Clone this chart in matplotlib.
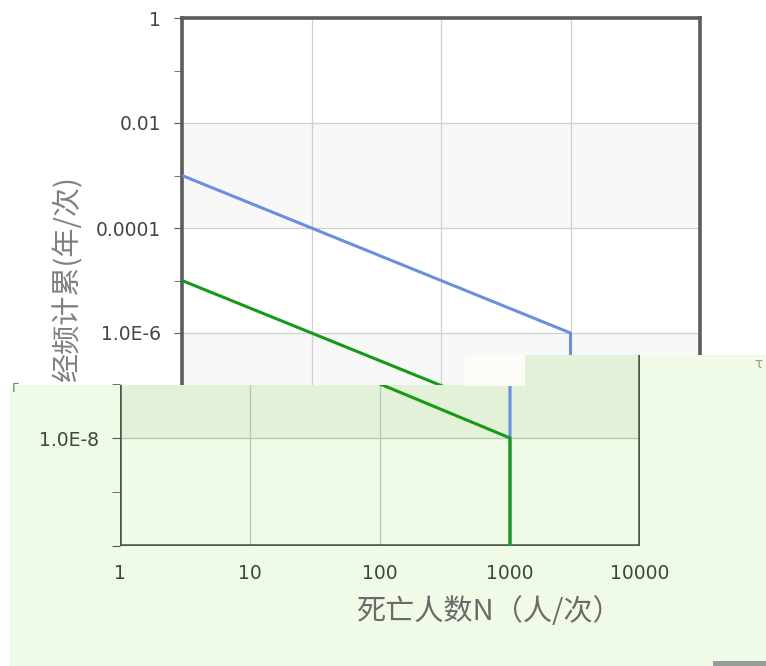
import matplotlib
matplotlib.use("Agg")
from matplotlib import pyplot as plt
from matplotlib.patches import Polygon, Rectangle
from matplotlib.ticker import FixedLocator, FixedFormatter, NullFormatter

# F-N curve data (deaths N vs cumulative frequency F)
deaths = [1, 1000, 1000]
upper_freq = [1e-3, 1e-6, 1e-10]
lower_freq = [1e-5, 1e-8, 1e-10]

x_ticks = [1, 10, 100, 1000, 10000]
x_labels = ["1", "10", "100", "1000", "10000"]
y_ticks = [1, 1e-2, 1e-4, 1e-6, 1e-8, 1e-10]
y_labels = ["1", "0.01", "0.0001", "1.0E-6", "1.0E-8", ""]
y_minor = [1e-1, 1e-3, 1e-5, 1e-7, 1e-9]
bands = [(1e-4, 1e-2), (1e-8, 1e-6)]

ylabel = "经频计累(年/次)"
xlabel = "死亡人数N（人/次）"

plt.rcParams['font.family'] = ['DejaVu Sans', 'Noto Sans CJK SC']

W, H = 766, 666
fig = plt.figure(figsize=(W / 100, H / 100), dpi=100)
fig.patch.set_facecolor("white")


def box(x0, y0, x1, y1):
    return [x0 / W, 1 - y1 / H, (x1 - x0) / W, (y1 - y0) / H]


def setup(ax, spine_col, band_col, grid_col, lab_col):
    ax.set_xscale("log")
    ax.set_yscale("log")
    ax.xaxis.set_major_locator(FixedLocator(x_ticks))
    ax.xaxis.set_major_formatter(FixedFormatter(x_labels))
    ax.xaxis.set_minor_locator(FixedLocator([]))
    ax.yaxis.set_major_locator(FixedLocator(y_ticks))
    ax.yaxis.set_major_formatter(FixedFormatter(y_labels))
    ax.yaxis.set_minor_locator(FixedLocator(y_minor))
    ax.yaxis.set_minor_formatter(NullFormatter())
    for lo, hi in bands:
        ax.axhspan(lo, hi, color=band_col, lw=0, zorder=0)
    ax.grid(True, which="major", color=grid_col, lw=0.9)
    ax.set_axisbelow(True)
    for s in ax.spines.values():
        s.set_color(spine_col)
        s.set_linewidth(2.6)
    ax.tick_params(axis="y", which="both", direction="out", length=6,
                   color=spine_col, labelsize=13.5, labelcolor=lab_col, pad=9)
    ax.tick_params(axis="x", which="both", length=0, labelsize=13.5,
                   labelcolor=lab_col, pad=13)
    ax.plot(deaths, upper_freq, color="#6b8fe0", lw=2.2, zorder=3)
    ax.plot(deaths, lower_freq, color="#169a16", lw=2.2, zorder=3)


# top (white) copy of the chart
ax1 = fig.add_axes(box(182, 18, 700, 543), zorder=0)
ax1.set_facecolor("white")
setup(ax1, "#5c5c5c", "#f8f8f8", "#d0d0d0", "#444444")
ax1.set_xlim(1, 10000)
ax1.set_ylim(1e-10, 1)
fig.text(68 / W, 1 - 176 / H, ylabel, rotation=90, ha="center", va="top",
         fontsize=21, color="#808080", family=["Noto Sans CJK SC"],
         fontweight="light", zorder=0.5)

# green overlay panel (shifted copy)
pts = [(10, 385), (466, 385), (466, 355), (766, 355), (766, 666), (10, 666)]
panel = Polygon([(x / W, 1 - y / H) for x, y in pts], closed=True,
                transform=fig.transFigure, facecolor="#f0fbe7", edgecolor="none",
                zorder=1)
fig.add_artist(panel)

ax2 = fig.add_axes(box(120, 355, 640, 546), zorder=2)
ax2.patch.set_visible(False)
setup(ax2, "#4d5a49", "#e4f1d9", "#b9c4b3", "#3f463c")
ax2.set_xlim(1, 10000)
ax2.set_ylim(1e-10, 10 ** (-10 + (546 - 355) / 54))
ax2.spines["top"].set_visible(False)

clip = Polygon([(x / W, 1 - y / H) for x, y in pts], closed=True,
               transform=fig.transFigure)
for art in ax2.lines + ax2.patches:
    art.set_clip_path(clip)
for gl in ax2.get_xgridlines() + ax2.get_ygridlines():
    gl.set_clip_path(clip)
for s in ax2.spines.values():
    s.set_clip_path(clip)

fig.text(490 / W, 1 - 612 / H, xlabel, ha="center", va="center",
         fontsize=21, color="#6a6a6a", family=["Noto Sans CJK SC"],
         fontweight="light", zorder=3)

# white glitch block at the seam and small stray marks
fig.add_artist(Rectangle((465 / W, 1 - 386 / H), 60 / W, 31 / H,
                         transform=fig.transFigure, facecolor="#fbfdf6",
                         edgecolor="none", zorder=4))
fig.add_artist(Rectangle((713 / W, 0), 53 / W, 5 / H,
                         transform=fig.transFigure, facecolor="#9a9a9a",
                         edgecolor="none", zorder=4))
fig.text(12 / W, 1 - 392 / H, "Γ", fontsize=9, color="#777777", zorder=4)
fig.text(754 / W, 1 - 368 / H, "τ", fontsize=10, color="#999999", zorder=4)

plt.savefig("out.png", dpi=100)
